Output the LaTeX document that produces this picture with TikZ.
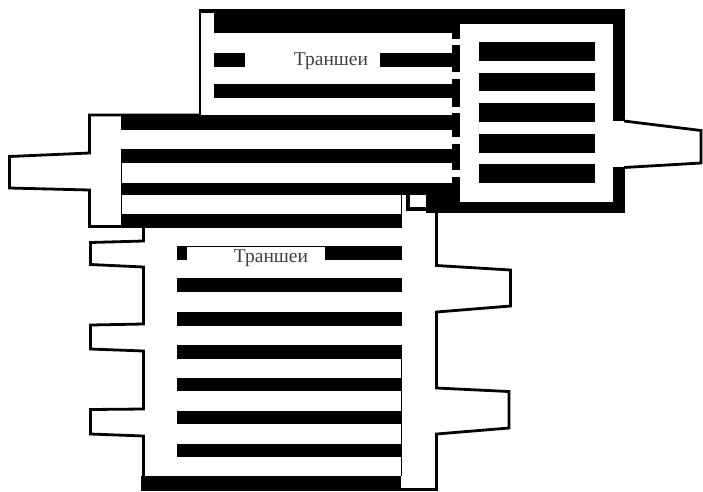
\documentclass[tikz,border=0pt]{standalone}
\usepackage{fontspec}
\setmainfont{Liberation Serif}
\newcommand{\blk}[4]{\fill[black] (#1,#2) rectangle (#3,#4);}
\tikzset{
  x=1pt,y=-1pt,
  wall/.style={draw=black,line width=2.8pt,line join=miter,fill=none},
  label/.style={inner sep=0pt,text=black!75,font=\fontsize{19.5}{19.5}\selectfont},
}
\begin{document}
\begin{tikzpicture}
\useasboundingbox (0,0) rectangle (703,491);
% upper block: frame
\blk{199}{9}{625}{13}
\blk{214}{13}{460}{33}
\blk{460}{13}{625}{24}
\blk{199}{9}{201}{116}
\blk{613}{24}{625}{121}
\blk{613}{167}{625}{213}
\blk{436}{202}{625}{213}
% comb of stubs on the trench wall
\blk{452}{33}{460}{39}
\blk{452}{45}{460}{72}
\blk{452}{79}{460}{107}
\blk{452}{113}{460}{137}
\blk{452}{144}{460}{170}
\blk{452}{177}{460}{213}
% upper trenches
\blk{214}{53}{245}{67}
\blk{380}{53}{452}{67}
\blk{214}{84}{452}{98}
% right-hand trenches
\blk{479}{42}{595}{61}
\blk{479}{73}{595}{91}
\blk{479}{103}{595}{122}
\blk{479}{134}{595}{153}
\blk{479}{164}{595}{183}
% right outlet
\draw[wall] (624,121) -- (701,130.5) -- (701,163) -- (624,167.5);
% middle block
\draw[wall] (201,115) -- (89.5,115) -- (89.5,153) -- (9.5,156.5) -- (9.5,188) -- (89.5,190) -- (89.5,226.5) -- (144,226.5);
\blk{121}{115}{452}{130}
\blk{121}{149}{452}{163}
\blk{121}{183}{452}{195}
\blk{121}{214}{402}{228}
\draw[black,line width=1pt] (121,163) -- (121,183) (121,195) -- (121,214) (401.5,195) -- (401.5,214);
% small square
\blk{426}{183}{460}{213}
\blk{402}{183}{426}{189}
\blk{406}{189}{410}{211}
\blk{406}{207}{426}{211}
% lower block outline
\draw[wall] (143.5,228) -- (143.5,241) -- (90.5,242.5) -- (90.5,264.5) -- (143.5,267)
  -- (143.5,324) -- (90.5,325) -- (90.5,349) -- (143.5,351)
  -- (143.5,409) -- (90.5,409.5) -- (90.5,434) -- (143.5,436) -- (143.5,477);
\draw[wall] (436.5,211) -- (436.5,265.5) -- (510.5,270) -- (510.5,306) -- (436.5,312)
  -- (436.5,388) -- (509,391.5) -- (509,428) -- (436.5,434) -- (436.5,489.5) -- (400,489.5);
% lower trenches
\blk{177}{246}{187}{260}
\blk{187}{245.5}{325}{247}
\blk{325}{246}{402}{260}
\blk{177}{278}{402}{292}
\blk{177}{312}{402}{326}
\blk{177}{345}{402}{359}
\blk{177}{378}{402}{391}
\blk{177}{411}{402}{424}
\blk{177}{444}{402}{457}
\blk{141}{476}{401}{491}
\draw[black,line width=1pt] (401.5,359) -- (401.5,378) (401.5,391) -- (401.5,411) (401.5,424) -- (401.5,444) (401.5,457) -- (401.5,476);
% labels
\node[label] (t1) at (331,61) {Траншеи};
\node[label] (t2) at (271,258) {Траншеи};
\end{tikzpicture}
\end{document}
